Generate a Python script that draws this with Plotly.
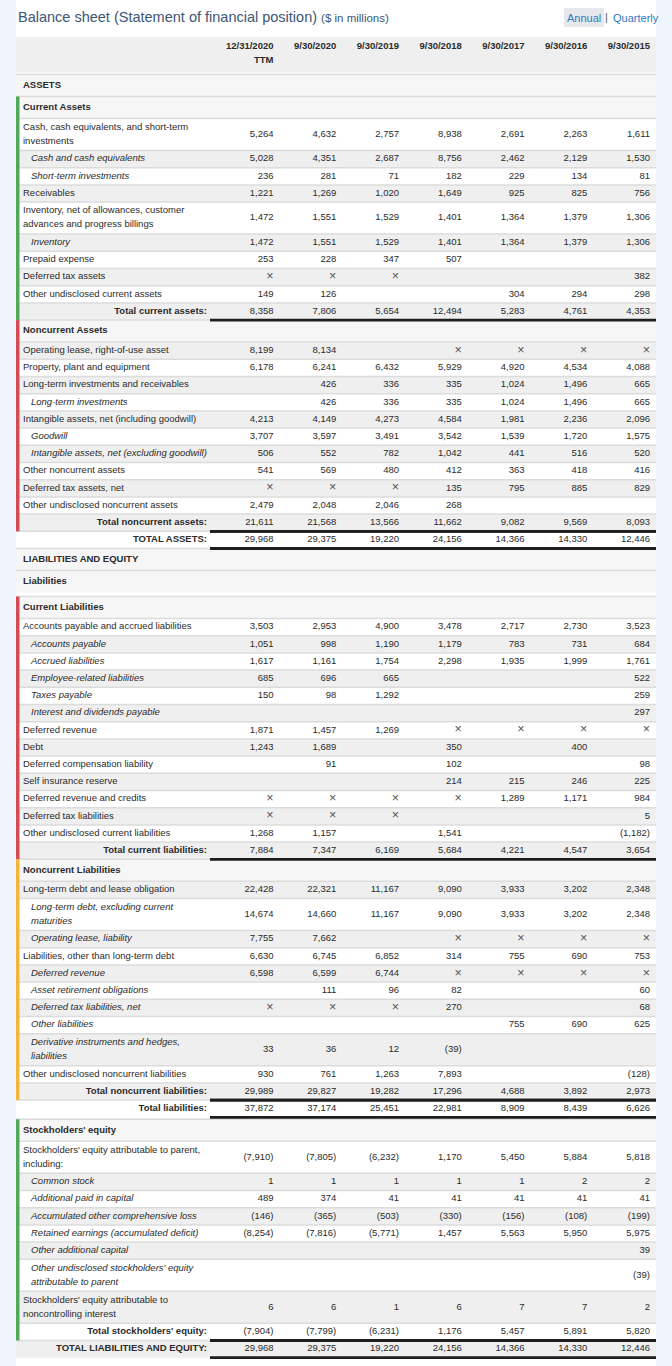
import plotly.graph_objects as go

X = "×"
N = None

# ---- data -----------------------------------------------------------------
dates = ["12/31/2020<br>TTM", "9/30/2020", "9/30/2019", "9/30/2018",
         "9/30/2017", "9/30/2016", "9/30/2015"]

row_labels = [
    "ASSETS",
    "Current Assets",
    "Cash, cash equivalents, and short-term<br>investments",
    "Cash and cash equivalents",
    "Short-term investments",
    "Receivables",
    "Inventory, net of allowances, customer<br>advances and progress billings",
    "Inventory",
    "Prepaid expense",
    "Deferred tax assets",
    "Other undisclosed current assets",
    "Total current assets:",
    "Noncurrent Assets",
    "Operating lease, right-of-use asset",
    "Property, plant and equipment",
    "Long-term investments and receivables",
    "Long-term investments",
    "Intangible assets, net (including goodwill)",
    "Goodwill",
    "Intangible assets, net (excluding goodwill)",
    "Other noncurrent assets",
    "Deferred tax assets, net",
    "Other undisclosed noncurrent assets",
    "Total noncurrent assets:",
    "TOTAL ASSETS:",
    "LIABILITIES AND EQUITY",
    "Liabilities",
    "Current Liabilities",
    "Accounts payable and accrued liabilities",
    "Accounts payable",
    "Accrued liabilities",
    "Employee-related liabilities",
    "Taxes payable",
    "Interest and dividends payable",
    "Deferred revenue",
    "Debt",
    "Deferred compensation liability",
    "Self insurance reserve",
    "Deferred revenue and credits",
    "Deferred tax liabilities",
    "Other undisclosed current liabilities",
    "Total current liabilities:",
    "Noncurrent Liabilities",
    "Long-term debt and lease obligation",
    "Long-term debt, excluding current<br>maturities",
    "Operating lease, liability",
    "Liabilities, other than long-term debt",
    "Deferred revenue",
    "Asset retirement obligations",
    "Deferred tax liabilities, net",
    "Other liabilities",
    "Derivative instruments and hedges,<br>liabilities",
    "Other undisclosed noncurrent liabilities",
    "Total noncurrent liabilities:",
    "Total liabilities:",
    "Stockholders' equity",
    "Stockholders' equity attributable to parent,<br>including:",
    "Common stock",
    "Additional paid in capital",
    "Accumulated other comprehensive loss",
    "Retained earnings (accumulated deficit)",
    "Other additional capital",
    "Other undisclosed stockholders' equity<br>attributable to parent",
    "Stockholders' equity attributable to<br>noncontrolling interest",
    "Total stockholders' equity:",
    "TOTAL LIABILITIES AND EQUITY:",
]

row_kinds = [
    "section", "group", "item", "sub", "sub", "item", "item", "sub", "item", "item", "item", "total",
    "group", "item", "item", "item", "sub", "item", "sub", "sub", "item", "item", "item", "total", "grand",
    "section", "section",
    "group", "item", "sub", "sub", "sub", "sub", "sub", "item", "item", "item", "item", "item", "item", "item", "total",
    "group", "item", "sub", "sub", "item", "sub", "sub", "sub", "sub", "sub", "item", "total", "grand",
    "group", "item", "sub", "sub", "sub", "sub", "sub", "sub", "item", "total", "grand",
]

col_2020_ttm = [
    N, N, 5264, 5028, 236, 1221, 1472, 1472, 253, X, 149, 8358,
    N, 8199, 6178, N, N, 4213, 3707, 506, 541, X, 2479, 21611, 29968,
    N, N,
    N, 3503, 1051, 1617, 685, 150, N, 1871, 1243, N, N, X, X, 1268, 7884,
    N, 22428, 14674, 7755, 6630, 6598, N, X, N, 33, 930, 29989, 37872,
    N, -7910, 1, 489, -146, -8254, N, N, 6, -7904, 29968,
]
col_2020 = [
    N, N, 4632, 4351, 281, 1269, 1551, 1551, 228, X, 126, 7806,
    N, 8134, 6241, 426, 426, 4149, 3597, 552, 569, X, 2048, 21568, 29375,
    N, N,
    N, 2953, 998, 1161, 696, 98, N, 1457, 1689, 91, N, X, X, 1157, 7347,
    N, 22321, 14660, 7662, 6745, 6599, 111, X, N, 36, 761, 29827, 37174,
    N, -7805, 1, 374, -365, -7816, N, N, 6, -7799, 29375,
]
col_2019 = [
    N, N, 2757, 2687, 71, 1020, 1529, 1529, 347, X, N, 5654,
    N, N, 6432, 336, 336, 4273, 3491, 782, 480, X, 2046, 13566, 19220,
    N, N,
    N, 4900, 1190, 1754, 665, 1292, N, 1269, N, N, N, X, X, N, 6169,
    N, 11167, 11167, N, 6852, 6744, 96, X, N, 12, 1263, 19282, 25451,
    N, -6232, 1, 41, -503, -5771, N, N, 1, -6231, 19220,
]
col_2018 = [
    N, N, 8938, 8756, 182, 1649, 1401, 1401, 507, N, N, 12494,
    N, X, 5929, 335, 335, 4584, 3542, 1042, 412, 135, 268, 11662, 24156,
    N, N,
    N, 3478, 1179, 2298, N, N, N, X, 350, 102, 214, X, N, 1541, 5684,
    N, 9090, 9090, X, 314, X, 82, 270, N, -39, 7893, 17296, 22981,
    N, 1170, 1, 41, -330, 1457, N, N, 6, 1176, 24156,
]
col_2017 = [
    N, N, 2691, 2462, 229, 925, 1364, 1364, N, N, 304, 5283,
    N, X, 4920, 1024, 1024, 1981, 1539, 441, 363, 795, N, 9082, 14366,
    N, N,
    N, 2717, 783, 1935, N, N, N, X, N, N, 215, 1289, N, N, 4221,
    N, 3933, 3933, X, 755, X, N, N, 755, N, N, 4688, 8909,
    N, 5450, 1, 41, -156, 5563, N, N, 7, 5457, 14366,
]
col_2016 = [
    N, N, 2263, 2129, 134, 825, 1379, 1379, N, N, 294, 4761,
    N, X, 4534, 1496, 1496, 2236, 1720, 516, 418, 885, N, 9569, 14330,
    N, N,
    N, 2730, 731, 1999, N, N, N, X, 400, N, 246, 1171, N, N, 4547,
    N, 3202, 3202, X, 690, X, N, N, 690, N, N, 3892, 8439,
    N, 5884, 2, 41, -108, 5950, N, N, 7, 5891, 14330,
]
col_2015 = [
    N, N, 1611, 1530, 81, 756, 1306, 1306, N, 382, 298, 4353,
    N, X, 4088, 665, 665, 2096, 1575, 520, 416, 829, N, 8093, 12446,
    N, N,
    N, 3523, 684, 1761, 522, 259, 297, X, N, 98, 225, 984, 5, -1182, 3654,
    N, 2348, 2348, X, 753, X, 60, 68, 625, N, -128, 2973, 6626,
    N, 5818, 2, 41, -199, 5975, 39, -39, 2, 5820, 12446,
]
columns = [col_2020_ttm, col_2020, col_2019, col_2018, col_2017, col_2016, col_2015]

# ---- layout constants -----------------------------------------------------
W, H = 672, 1366
FONT = "Liberation Sans, Arial, sans-serif"
TXT = "#2b2b2b"
TABLE_L, TABLE_R = 16, 656
LABEL_X, SUB_X, TOTAL_X = 23, 31, 207
COL_RIGHT = [273.5 + 62.75 * i for i in range(7)]
RULE_X0 = 210
ROW_H, TWO_LINE_H, HEAD_H = 17.2, 32, 22
GAP_BEFORE = {"Current Liabilities": 4, "Stockholders' equity": 2}
BAND_COLORS = {
    "Current Assets": "#52a95a",
    "Noncurrent Assets": "#d24b55",
    "Current Liabilities": "#d24b55",
    "Noncurrent Liabilities": "#f2b63c",
    "Stockholders' equity": "#52a95a",
}


def fmt(v):
    if v is None:
        return ""
    if v == X:
        return X
    return f"({abs(v):,})" if v < 0 else f"{v:,}"


# row geometry
tops, bottoms = [], []
y = 74.5
for label, kind in zip(row_labels, row_kinds):
    y += GAP_BEFORE.get(label, 0)
    if kind in ("section", "group"):
        h = HEAD_H
    else:
        h = TWO_LINE_H if "<br>" in label else ROW_H
    tops.append(y)
    y += h
    bottoms.append(y)
mids = [(t + b) / 2 for t, b in zip(tops, bottoms)]

shapes = []
# page tint at the sides
for x0, x1 in [(0, TABLE_L), (TABLE_R, W)]:
    shapes.append(dict(type="rect", xref="x", yref="y", x0=x0, x1=x1, y0=0, y1=H,
                       fillcolor="#eef4fb", line_width=0, layer="below"))
# header band
shapes.append(dict(type="rect", xref="x", yref="y", x0=TABLE_L, x1=TABLE_R, y0=37, y1=72.5,
                   fillcolor="#efefef", line_width=0, layer="below"))
# "Annual" toggle box
shapes.append(dict(type="rect", xref="x", yref="y", x0=564, x1=604, y0=8, y1=27,
                   fillcolor="#e6e8eb", line_width=0, layer="below"))

# row stripes and separators
count = 0
prev_kind = None
for i, kind in enumerate(row_kinds):
    if kind == "group" and prev_kind in ("section", "grand", None):
        count = 0
    if kind in ("section", "group"):
        fill = "#f6f6f6"
    else:
        fill = "#efefef" if count % 2 == 0 else "white"
    if kind != "section":
        count += 1
    prev_kind = kind
    shapes.append(dict(type="rect", xref="x", yref="y", x0=TABLE_L, x1=TABLE_R,
                       y0=tops[i], y1=bottoms[i], fillcolor=fill, line_width=0, layer="below"))
    shapes.append(dict(type="rect", xref="x", yref="y", x0=TABLE_L, x1=TABLE_R,
                       y0=tops[i] - 0.75, y1=tops[i] + 0.75, fillcolor="#dcdcdc",
                       line_width=0, layer="below"))

# coloured bands on the left edge
for i, label in enumerate(row_labels):
    if label in BAND_COLORS:
        j = next(k for k in range(i, len(row_kinds)) if row_kinds[k] == "total")
        shapes.append(dict(type="rect", xref="x", yref="y", x0=TABLE_L, x1=19.5,
                           y0=tops[i], y1=bottoms[j], fillcolor=BAND_COLORS[label], line_width=0))

fig = go.Figure()

# heavy rules under totals (and over the grand totals)
rx, ry = [], []
for i, kind in enumerate(row_kinds):
    if kind in ("total", "grand"):
        for yy in ([tops[i], bottoms[i]] if kind == "grand" else [bottoms[i]]):
            rx += [RULE_X0, TABLE_R, None]
            ry += [yy, yy, None]
fig.add_trace(go.Scatter(
    x=rx, y=ry, mode="lines", line=dict(color="#1e1e1e", width=2.8),
    hoverinfo="skip", showlegend=False,
))

# ---- text traces ----------------------------------------------------------
lx, ly, ltext, lpos = [], [], [], []
for label, kind, m in zip(row_labels, row_kinds, mids):
    lines = label.split("<br>")
    for k, line in enumerate(lines):
        yy = m + (k - (len(lines) - 1) / 2) * 14
        if kind in ("section", "group"):
            lx.append(LABEL_X); lpos.append("middle right"); ltext.append(f"<b>{line}</b>")
        elif kind in ("total", "grand"):
            lx.append(TOTAL_X); lpos.append("middle left"); ltext.append(f"<b>{line}</b>")
        elif kind == "sub":
            lx.append(SUB_X); lpos.append("middle right"); ltext.append(f"<i>{line}</i>")
        else:
            lx.append(LABEL_X); lpos.append("middle right"); ltext.append(line)
        ly.append(yy)

fig.add_trace(go.Scatter(
    x=lx, y=ly, text=ltext, mode="text", textposition=lpos,
    textfont=dict(family=FONT, size=9.5, color=TXT),
    hoverinfo="skip", showlegend=False,
))

# column headers
hx, hy, htext = [], [], []
for xr, d in zip(COL_RIGHT, dates):
    for k, line in enumerate(d.split("<br>")):
        hx.append(xr)
        hy.append(47 + 13.5 * k)
        htext.append(f"<b>{line}</b>")
fig.add_trace(go.Scatter(
    x=hx, y=hy, text=htext, mode="text", textposition="middle left",
    textfont=dict(family=FONT, size=9.5, color=TXT),
    hoverinfo="skip", showlegend=False,
))

for xr, col in zip(COL_RIGHT, columns):
    texts = [fmt(v) for v in col]
    fig.add_trace(go.Scatter(
        x=[xr] * len(col), y=mids, text=texts,
        mode="text", textposition="middle left",
        textfont=dict(family=FONT,
                      size=[12.5 if t == X else 9.5 for t in texts],
                      color=["#555555" if t == X else TXT for t in texts]),
        hoverinfo="skip", showlegend=False,
    ))

annotations = [
    dict(x=16, y=17, xref="x", yref="y", xanchor="left", yanchor="middle", showarrow=False,
         text="Balance sheet (Statement of financial position) "
              "<span style='font-size:11.5px'>($ in millions)</span>",
         font=dict(family=FONT, size=14.5, color="#3b5676")),
    dict(x=584, y=17.5, xref="x", yref="y", xanchor="center", yanchor="middle", showarrow=False,
         text="Annual", font=dict(family=FONT, size=11, color="#2f78c4")),
    dict(x=606, y=17, xref="x", yref="y", xanchor="center", yanchor="middle", showarrow=False,
         text="|", font=dict(family=FONT, size=11, color="#555555")),
    dict(x=611, y=17.5, xref="x", yref="y", xanchor="left", yanchor="middle", showarrow=False,
         text="Quarterly", font=dict(family=FONT, size=11, color="#2f78c4")),
]

fig.update_layout(
    width=W, height=H,
    margin=dict(l=0, r=0, t=0, b=0),
    paper_bgcolor="white", plot_bgcolor="white",
    xaxis=dict(range=[0, W], visible=False, fixedrange=True),
    yaxis=dict(range=[H, 0], visible=False, fixedrange=True),
    shapes=shapes,
    annotations=annotations,
    showlegend=False,
)

fig.write_html("out.html", config={"displayModeBar": False},
               post_script="document.body.style.margin='0';")
